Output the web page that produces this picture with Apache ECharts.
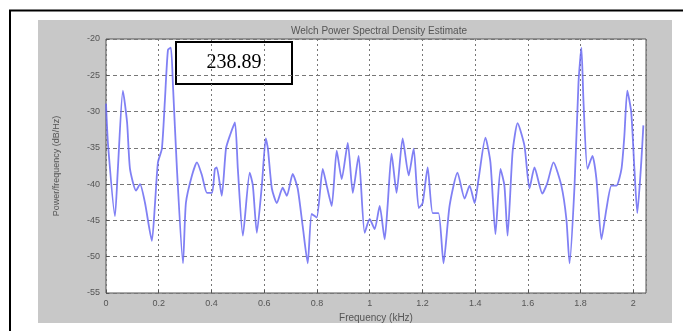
<!DOCTYPE html>
<html>
<head>
<meta charset="utf-8">
<script src="https://cdn.jsdelivr.net/npm/echarts@6/dist/echarts.min.js"></script>
<style>
  html, body { margin: 0; padding: 0; background: #fff; }
  #chart { width: 683px; height: 331px; }
</style>
</head>
<body>
<div id="chart"></div>
<script>
var myChart = echarts.init(document.getElementById('chart'));

// frequency (kHz)
var freq = [0.000, 0.008, 0.034, 0.045, 0.064, 0.080, 0.091, 0.114, 0.129, 0.148,
    0.174, 0.186, 0.197, 0.212, 0.223, 0.235, 0.246, 0.254, 0.269, 0.292,
    0.303, 0.326, 0.345, 0.364, 0.383, 0.402, 0.413, 0.420, 0.439, 0.455,
    0.470, 0.489, 0.500, 0.519, 0.545, 0.557, 0.572, 0.591, 0.606, 0.614,
    0.629, 0.648, 0.670, 0.686, 0.708, 0.727, 0.746, 0.765, 0.780, 0.799,
    0.822, 0.837, 0.856, 0.875, 0.894, 0.917, 0.936, 0.958, 0.981, 1.000,
    1.019, 1.038, 1.057, 1.068, 1.083, 1.102, 1.125, 1.148, 1.167, 1.186,
    1.201, 1.220, 1.239, 1.261, 1.280, 1.303, 1.333, 1.360, 1.379, 1.398,
    1.413, 1.439, 1.458, 1.477, 1.496, 1.511, 1.523, 1.542, 1.561, 1.587,
    1.606, 1.625, 1.655, 1.674, 1.697, 1.727, 1.746, 1.758, 1.777, 1.792,
    1.803, 1.811, 1.826, 1.845, 1.860, 1.879, 1.898, 1.917, 1.936, 1.955,
    1.966, 1.977, 1.992, 2.004, 2.015, 2.030, 2.038];

// power/frequency (dB/Hz)
var psd = [-28.9, -34.7, -44.4, -37.9, -27.1, -31.5, -37.9, -40.9, -40.0, -42.6,
    -47.8, -42.6, -37.0, -35.1, -28.7, -21.5, -21.2, -26.4, -37.9, -50.9,
    -42.6, -38.8, -37.0, -38.8, -41.2, -41.2, -37.9, -37.7, -41.6, -35.1,
    -33.3, -31.5, -37.9, -47.1, -38.4, -40.2, -46.7, -40.2, -33.7, -35.1,
    -40.6, -42.6, -40.5, -41.6, -38.6, -40.6, -45.8, -50.9, -44.1, -44.6,
    -37.9, -40.2, -43.0, -35.4, -39.3, -34.3, -41.2, -36.1, -46.7, -44.8,
    -46.2, -43.0, -47.6, -43.0, -35.8, -41.2, -33.7, -38.8, -35.1, -43.3,
    -42.6, -37.7, -44.0, -44.0, -50.9, -43.0, -38.4, -42.0, -40.2, -42.6,
    -39.3, -33.6, -37.0, -46.9, -37.9, -40.2, -47.1, -35.6, -31.6, -34.7,
    -40.6, -37.7, -41.3, -39.8, -37.0, -40.2, -44.8, -50.9, -40.2, -26.0,
    -21.2, -28.7, -37.9, -36.1, -39.3, -47.6, -43.4, -40.2, -40.2, -37.9,
    -33.3, -27.1, -30.1, -37.9, -44.0, -37.0, -31.9];

var annotation = '238.89';

var points = freq.map(function (f, i) { return [f, psd[i]]; });

myChart.setOption({
    backgroundColor: '#ffffff',
    animation: false,
    graphic: [
        {   // outer frame
            type: 'polyline', silent: true, z: 0,
            shape: { points: [[10, 340], [10, 10.5], [690, 10.5]] },
            style: { stroke: '#000', lineWidth: 2, fill: null }
        },
        {   // gray figure panel
            type: 'rect', silent: true, z: -10,
            shape: { x: 38, y: 20, width: 634, height: 303 },
            style: { fill: '#c8c8c8' }
        },
        {   // value box
            type: 'group', z: 100,
            children: [
                {
                    type: 'rect',
                    shape: { x: 176, y: 42, width: 116, height: 42 },
                    style: { fill: '#fff', stroke: '#000', lineWidth: 2 }
                },
                {
                    type: 'text',
                    x: 234, y: 63,
                    style: {
                        text: annotation, fill: '#000',
                        font: '20px "Liberation Serif", "DejaVu Serif", serif',
                        align: 'center', verticalAlign: 'middle'
                    }
                }
            ]
        }
    ],
    title: {
        text: 'Welch Power Spectral Density Estimate',
        left: 374, top: 21, textAlign: 'center',
        textStyle: { fontSize: 10, fontWeight: 'normal', color: '#555', fontFamily: 'Liberation Sans, Arial, sans-serif' }
    },
    grid: {
        left: 106, top: 39, right: 37, bottom: 38,
        show: true, backgroundColor: '#ffffff',
        borderColor: '#555', borderWidth: 1
    },
    xAxis: {
        type: 'value', min: 0, max: 2.048, interval: 0.2,
        name: 'Frequency (kHz)', nameLocation: 'middle', nameGap: 18,
        nameTextStyle: { fontSize: 10, color: '#555', fontFamily: 'Liberation Sans, Arial, sans-serif' },
        axisLine: { show: false },
        axisTick: { show: true, inside: true, length: 3, lineStyle: { color: '#555' } },
        axisLabel: { fontSize: 9, color: '#555', margin: 6, showMaxLabel: false, fontFamily: 'Liberation Sans, Arial, sans-serif' },
        splitLine: { show: true, lineStyle: { color: '#777', type: [2, 3], width: 1 } }
    },
    yAxis: {
        type: 'value', min: -55, max: -20, interval: 5,
        name: 'Power/frequency (dB/Hz)', nameLocation: 'middle', nameGap: 45,
        nameTextStyle: { fontSize: 9, color: '#555', fontFamily: 'Liberation Sans, Arial, sans-serif' },
        axisLine: { show: false },
        axisTick: { show: true, inside: true, length: 3, lineStyle: { color: '#555' } },
        axisLabel: { fontSize: 9, color: '#555', margin: 6, fontFamily: 'Liberation Sans, Arial, sans-serif' },
        splitLine: { show: true, lineStyle: { color: '#777', type: [4, 3], width: 1 } }
    },
    series: [
        {
            type: 'line',
            data: points,
            showSymbol: false,
            smooth: 0.2,
            lineStyle: { color: '#6a6af2', width: 1.8, opacity: 0.85 }
        }
    ]
});
</script>
</body>
</html>
